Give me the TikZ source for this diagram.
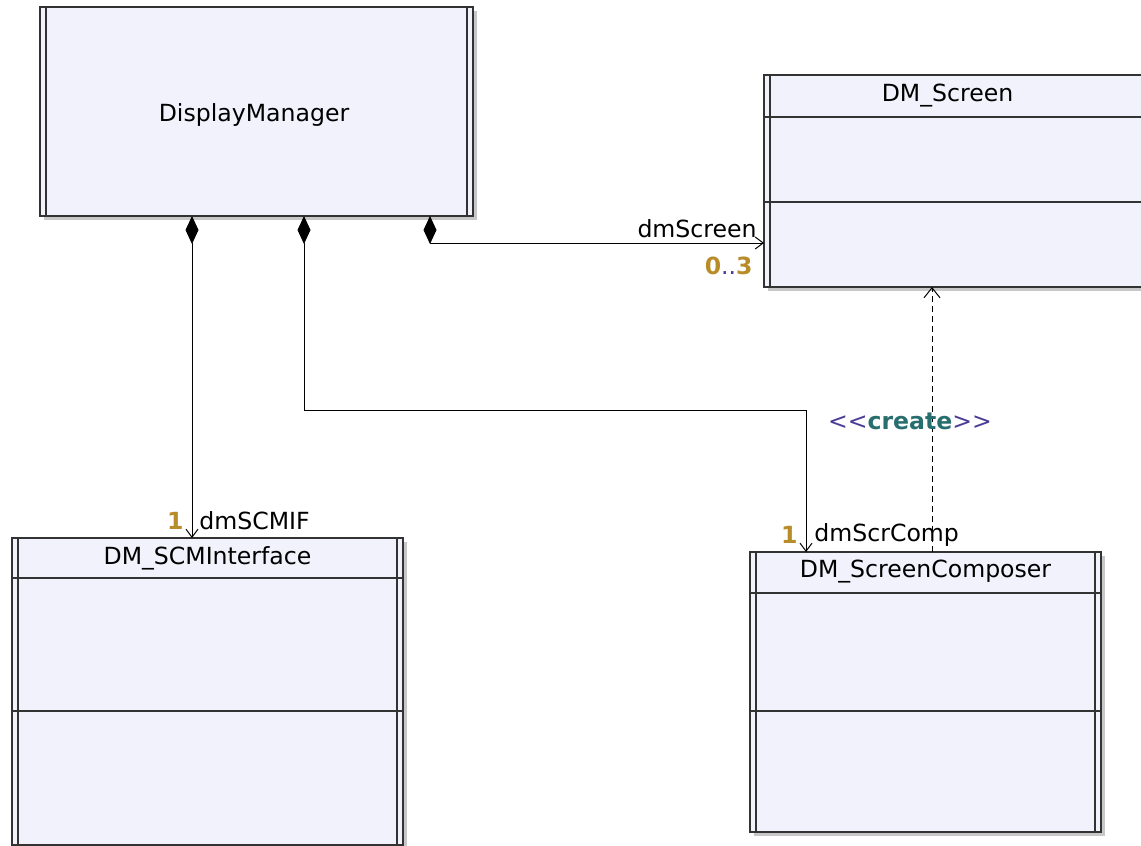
\documentclass[tikz,border=0pt]{standalone}
\usepackage{fontspec}
\setmainfont{DejaVu Sans}
\usepackage{xcolor}
\usetikzlibrary{arrows.meta,shadows}

\definecolor{classfill}{RGB}{242,242,252}
\definecolor{multgold}{RGB}{184,140,40}
\definecolor{stereoblue}{RGB}{75,60,150}
\definecolor{keyteal}{RGB}{40,110,110}

\begin{document}
\begin{tikzpicture}[x=0.5pt, y=-0.5pt,
    classbox/.style={draw=black!80, line width=1pt, fill=classfill, rectangle, inner sep=0pt, outer sep=0pt,
        drop shadow={shadow xshift=2pt, shadow yshift=-2pt, fill=black!22, opacity=1}},
    txt/.style={font=\fontsize{11.8}{14}\selectfont, inner sep=0pt},
    compo/.style={line width=0.5pt, {Diamond[length=14pt,width=6.5pt]}-{Straight Barb[length=4pt,width=6pt]}},
    depend/.style={line width=0.5pt, dash pattern=on 3pt off 2pt, -{Straight Barb[length=5pt,width=8pt]}}]
    \useasboundingbox (0,0) rectangle (1141,846);

    % Classes
    \node[classbox, minimum width=216.5pt, minimum height=104.5pt] (dm) at (256.5,111.5) {};
    \node[classbox, minimum width=198pt, minimum height=106pt] (screen) at (962,181) {};
    \node[classbox, minimum width=195.5pt, minimum height=153.5pt] (scmi) at (207.5,691.5) {};
    \node[classbox, minimum width=175.5pt, minimum height=140pt] (comp) at (925.5,692) {};

    % Double borders
    \draw[line width=1pt, black!80] ([xshift=3pt]dm.north west) -- ([xshift=3pt]dm.south west);
    \draw[line width=1pt, black!80] ([xshift=-3pt]dm.north east) -- ([xshift=-3pt]dm.south east);
    \draw[line width=1pt, black!80] ([xshift=3pt]screen.north west) -- ([xshift=3pt]screen.south west);
    \draw[line width=1pt, black!80] ([xshift=3pt]scmi.north west) -- ([xshift=3pt]scmi.south west);
    \draw[line width=1pt, black!80] ([xshift=-3pt]scmi.north east) -- ([xshift=-3pt]scmi.south east);
    \draw[line width=1pt, black!80] ([xshift=3pt]comp.north west) -- ([xshift=3pt]comp.south west);
    \draw[line width=1pt, black!80] ([xshift=-3pt]comp.north east) -- ([xshift=-3pt]comp.south east);

    % Compartments
    \draw[line width=1pt, black!80] ([yshift=-21pt]screen.north west) -- ([yshift=-21pt]screen.north east);
    \draw[line width=1pt, black!80] ([yshift=-63.5pt]screen.north west) -- ([yshift=-63.5pt]screen.north east);
    \draw[line width=1pt, black!80] ([yshift=-20pt]scmi.north west) -- ([yshift=-20pt]scmi.north east);
    \draw[line width=1pt, black!80] ([yshift=-86.5pt]scmi.north west) -- ([yshift=-86.5pt]scmi.north east);
    \draw[line width=1pt, black!80] ([yshift=-20.5pt]comp.north west) -- ([yshift=-20.5pt]comp.north east);
    \draw[line width=1pt, black!80] ([yshift=-79.5pt]comp.north west) -- ([yshift=-79.5pt]comp.north east);

    % Class names
    \node[txt] (dmname) at (254,115) {DisplayManager};
    \node[txt] (screenname) at (947.5,96) {DM\_Screen};
    \node[txt] (sciname) at ([yshift=-10pt]scmi.north) {DM\_SCMInterface};
    \node[txt] (compname) at ([yshift=-10pt]comp.north) {DM\_ScreenComposer};

    % Associations
    \draw[compo] ([xshift=76pt]dm.south west) -- ([xshift=90pt]scmi.north west);
    \draw[compo] ([xshift=132pt]dm.south west) -- ++(0,194) -| ([xshift=28pt]comp.north west);
    \draw[compo] ([xshift=195pt]dm.south west) |- ([yshift=-84pt]screen.north west);
    \draw[depend] ([xshift=91pt]comp.north west) -- ([xshift=84pt]screen.south west);

    % Role names and multiplicities
    \node[txt, anchor=east] (rscreen) at (757,229) {dmScreen};
    \node[txt, anchor=east] (mscreen) at (753,266) {\textcolor{multgold}{\bfseries 0}\textcolor{stereoblue}{..}\textcolor{multgold}{\bfseries 3}};
    \node[txt, anchor=east, text=multgold] (mscmi) at (184,521) {\bfseries 1};
    \node[txt, anchor=west] (rscmi) at (199,521) {dmSCMIF};
    \node[txt, anchor=east, text=multgold] (mcomp) at (798,535) {\bfseries 1};
    \node[txt, anchor=west] (rcomp) at (814,535) {dmScrComp};
    \node[txt] (create) at (910,421) {\textcolor{stereoblue}{<{}<}\textcolor{keyteal}{\bfseries create}\textcolor{stereoblue}{>{}>}};
\end{tikzpicture}
\end{document}
